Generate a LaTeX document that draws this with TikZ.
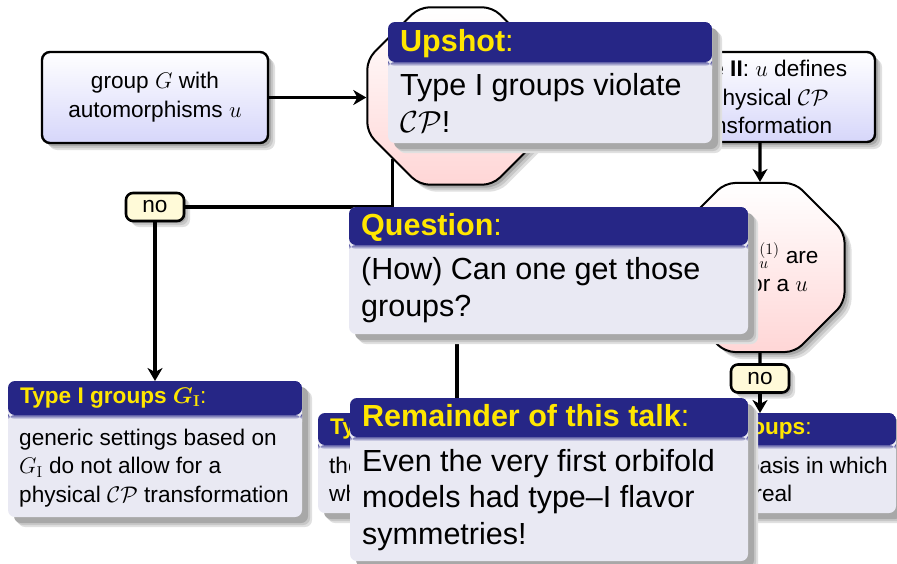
\RequirePackage{fix-cm}
\documentclass[tikz,border=0pt]{standalone}
\usepackage{bm}
\usepackage[no-math]{fontspec}
\setmainfont{Liberation Sans}
\usetikzlibrary{shapes.geometric, arrows.meta, calc, shadows}

\definecolor{blktitle}{RGB}{38,38,134}
\definecolor{blkbody}{RGB}{233,233,243}
\definecolor{ttlyellow}{RGB}{255,230,0}
\definecolor{boxlow}{RGB}{214,214,250}
\definecolor{octlow}{RGB}{255,214,214}
\definecolor{nofill}{RGB}{255,250,216}

\newcommand{\fsSmall}{\fontsize{22.6}{28.8}\selectfont}
\newcommand{\fsBig}{\fontsize{30.5}{36.5}\selectfont}

\begin{document}
\begin{tikzpicture}[x=1pt, y=-1pt, font=\fsSmall,
  softshadow/.style={
    general shadow={shadow xshift=#1+3pt, shadow yshift=-#1-3pt, fill=black!12},
    general shadow={shadow xshift=#1+1pt, shadow yshift=-#1-1pt, fill=black!22},
    general shadow={shadow xshift=#1-1pt, shadow yshift=-#1+1pt, fill=black!34}},
  flowbox/.style={draw, line width=2.4pt, rounded corners=8pt, top color=white,
    bottom color=boxlow, align=center, inner sep=0pt, softshadow=4pt},
  octa/.style={regular polygon, regular polygon sides=8, draw, line width=2pt,
    rounded corners=10pt, top color=white, bottom color=octlow, inner sep=0pt, align=center,
    softshadow=4pt},
  nolabel/.style={draw, line width=2.6pt, rounded corners=7pt, fill=nofill,
    minimum width=58pt, minimum height=28pt, inner sep=0pt, softshadow=3pt},
  conn/.style={line width=3.2pt},
  arr/.style={conn, -{Stealth[length=13pt, width=15pt, inset=4pt]}},
  blk/.style={rectangle, rounded corners=7pt, fill=blkbody, inner sep=0pt, outer sep=0pt,
    anchor=north west, softshadow=7pt},
  band/.style={path picture={
    \fill[blktitle] (path picture bounding box.north west)
      rectangle ([yshift=-#1]path picture bounding box.north east);
    \shade[top color=blktitle!70!blkbody, bottom color=blkbody]
      ([yshift=-#1]path picture bounding box.north west)
      rectangle ([yshift=-#1-4pt]path picture bounding box.north east);}},
  ttlS/.style={anchor=base west, inner sep=0pt, text=ttlyellow, font=\fsSmall\bfseries},
  bdyS/.style={anchor=base west, inner sep=0pt, align=left, font=\fsSmall},
  ttlB/.style={anchor=base west, inner sep=0pt, text=ttlyellow, font=\fsBig\bfseries},
  bdyB/.style={anchor=base west, inner sep=0pt, align=left, font=\fsBig}]
\useasboundingbox (0,0) rectangle (897,563);

% decision flow
\node[flowbox, minimum width=226pt, minimum height=91pt] (grp) at (155,97.5)
  {group $G$ with\\automorphisms $u$};
\node[octa, minimum size=192pt] (ci) at (456,96) {};
\node[flowbox, minimum width=230pt, minimum height=90pt] (tII) at (760,97)
  {\textbf{Type II}: $u$ defines\\a physical $\mathcal{CP}$\\transformation};
\node[octa, minimum size=183pt] (fs) at (760,267.5)
  {all FS$^{(1)}_u$ are\\+1 for a $u$};
\node[nolabel] (no1) at (155,207) {no};
\node[nolabel] (no2) at (760,378.5) {no};

% classification blocks (base anchors sit on the last text line)
\node[blk, band=34pt, minimum width=294pt, minimum height=136pt] (gI) at (8,381) {};
\node[ttlS] (gIt) at ($(gI.north west)+(12,22)$) {Type I groups $\bm{G_{\mathrm{I}}}$\mdseries:};
\node[bdyS] (gIb) at ($(gI.north west)+(11,121.6)$)
  {generic settings based on\\$G_{\mathrm{I}}$ do not allow for a\\physical $\mathcal{CP}$ transformation};

\node[blk, band=32pt, minimum width=278pt, minimum height=100pt] (gA) at (318,413) {};
\node[ttlS] (gAt) at ($(gA.north west)+(12,21)$) {Type IIA groups\mdseries:};
\node[bdyS] (gAb) at ($(gA.north west)+(11,88.8)$)
  {there is a basis in\\which all CGs are real};

\node[blk, band=32pt, minimum width=272pt, minimum height=100pt] (gB) at (624,413) {};
\node[ttlS] (gBt) at ($(gB.north west)+(12,21)$) {Type IIB groups\mdseries:};
\node[bdyS] (gBb) at ($(gB.north west)+(11,88.8)$)
  {there is no basis in which\\all CGs are real};

% connectors
\draw[arr] (grp.east) -- (ci.180 |- grp.east);
\draw[conn] (ci.225) |- (no1.east);
\draw[arr] (no1) -- (gI.north);
\draw[arr] (tII.south) -- (fs.north);
\draw[conn] (fs.south) -- (no2.north);
\draw[arr] (no2) -- (gB.north);
\draw[arr] (fs.west) -| (gA.north);

% overlaid remarks
\node[blk, band=40pt, minimum width=324pt, minimum height=121pt] (ups) at (388,22) {};
\node[ttlB] (upsT) at ($(ups.north west)+(12,29)$) {Upshot\mdseries:};
\node[bdyB] (upsB) at ($(ups.north west)+(12,110)$) {Type I groups violate\\$\mathcal{CP}$!};

\node[blk, band=38pt, minimum width=399pt, minimum height=127pt] (qst) at (349,207) {};
\node[ttlB] (qstT) at ($(qst.north west)+(12,28)$) {Question\mdseries:};
\node[bdyB] (qstB) at ($(qst.north west)+(12,109)$) {(How) Can one get those\\groups?};

\node[blk, band=39pt, minimum width=398pt, minimum height=163pt] (rem) at (350,398) {};
\node[ttlB] (remT) at ($(rem.north west)+(12,28)$) {Remainder of this talk\mdseries:};
\node[bdyB] (remB) at ($(rem.north west)+(12,146)$)
  {Even the very first orbifold\\models had type--I flavor\\symmetries!};
\end{tikzpicture}
\end{document}
